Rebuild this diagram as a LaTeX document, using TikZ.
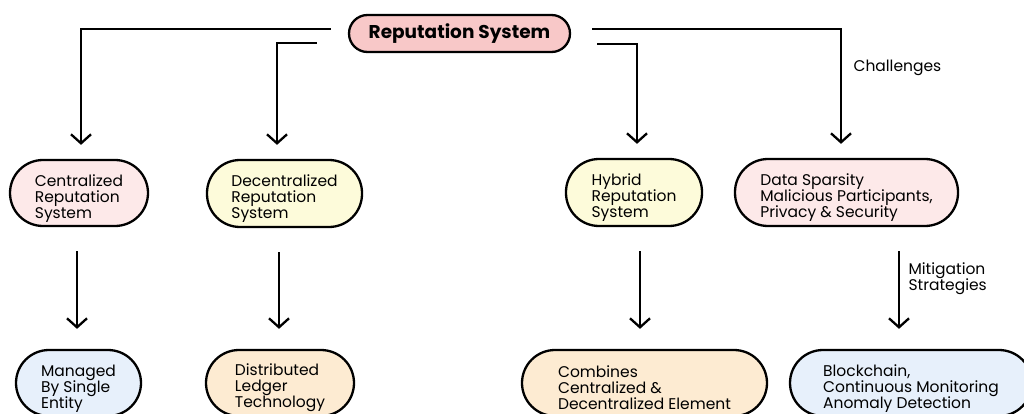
\documentclass[tikz,border=0pt]{standalone}
\usepackage{fontspec}
\setmainfont{Poppins}
\usetikzlibrary{arrows.meta}
\definecolor{titlepink}{HTML}{F8C8C8}
\definecolor{softpink}{HTML}{FDE9E9}
\definecolor{softyellow}{HTML}{FDFBDA}
\definecolor{softpeach}{HTML}{FDEBD2}
\definecolor{softblue}{HTML}{E7F0FB}
\begin{document}
\begin{tikzpicture}[x=1pt,y=-1pt,
    pill/.style={draw,line width=2.3pt,rectangle,rounded corners=33pt,align=left,inner sep=0pt,
      text height=54pt,font=\fontsize{15.5}{16}\selectfont},
    link/.style={line width=2.3pt,-{Straight Barb[length=9pt,width=20pt]}},
    down/.style={link,shorten <=24pt,shorten >=20pt},
    note/.style={anchor=west,align=left,font=\fontsize{15.5}{16}\selectfont}]
  \useasboundingbox (0,0) rectangle (1024,414);
  \node[pill,fill=titlepink,minimum width=221pt,minimum height=37pt,rounded corners=18.5pt,
    text height=,font=\bfseries\fontsize{18.5}{20}\selectfont] (top) at (459.5,33.5) {Reputation System};
  \node[pill,fill=softpink,minimum width=138pt,minimum height=66pt] (central) at (79,193) {Centralized\\Reputation\\System};
  \node[pill,fill=softyellow,minimum width=155pt,minimum height=67pt] (decent) at (284.5,193.5) {Decentralized\\Reputation\\System};
  \node[pill,fill=softyellow,minimum width=136pt,minimum height=67pt] (hybrid) at (634,192.5) {Hybrid\\Reputation\\System};
  \node[pill,fill=softpink,minimum width=223pt,minimum height=67pt] (data) at (846.5,192.5) {Data Sparsity\\Malicious Participants,\\Privacy \& Security};
  \node[pill,fill=softblue,minimum width=125pt,minimum height=66pt] (managed) at (78.5,383) {Managed\\By Single\\Entity};
  \node[pill,fill=softpeach,minimum width=148pt,minimum height=66pt] (ledger) at (280,383) {Distributed\\Ledger\\Technology};
  \node[pill,fill=softpeach,minimum width=245pt,minimum height=66pt] (combines) at (644.5,383) {Combines\\Centralized \&\\Decentralized Element};
  \node[pill,fill=softblue,minimum width=242pt,minimum height=66pt] (chain) at (911,383) {Blockchain,\\Continuous Monitoring\\Anomaly Detection};
  \node[note] (challenges) at (850,68) {Challenges};
  \node[note] (mitigation) at (905,279) {Mitigation\\Strategies};
  \draw[link,shorten >=14pt] ([xshift=-17pt,yshift=4.5pt]top.west) -| ([xshift=2pt]central.north);
  \draw[link,shorten >=14pt] ([xshift=-31pt,yshift=-9.5pt]top.west) -| ([xshift=-7.5pt]decent.north);
  \draw[link,shorten >=14pt] ([xshift=26pt,yshift=-10.5pt]top.east) -| ([xshift=3pt]hybrid.north);
  \draw[link,shorten >=14pt] ([xshift=21pt,yshift=4.5pt]top.east) -| ([xshift=-5.5pt]data.north);
  \draw[down] ([xshift=-2pt]central.south) -- ([xshift=-2pt]central.south |- managed.north);
  \draw[down] ([xshift=-5.5pt]decent.south) -- ([xshift=-5.5pt]decent.south |- ledger.north);
  \draw[down] ([xshift=6pt]hybrid.south) -- ([xshift=6pt]hybrid.south |- combines.north);
  \draw[down] ([xshift=52.5pt]data.south) -- ([xshift=52.5pt]data.south |- chain.north);
\end{tikzpicture}
\end{document}
